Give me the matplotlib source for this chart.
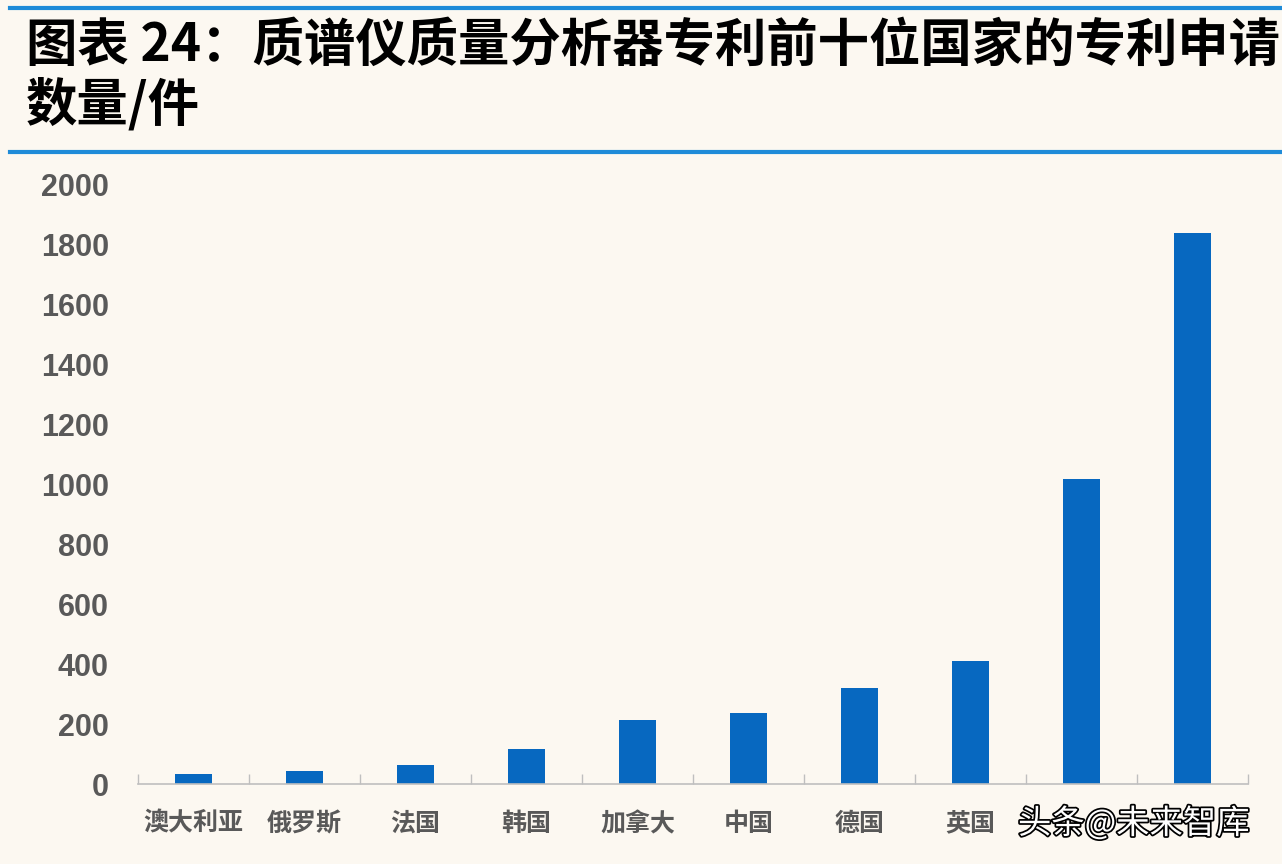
import matplotlib.pyplot as plt
import matplotlib.patheffects as pe

plt.rcParams['font.family'] = ['Noto Sans CJK SC', 'DejaVu Sans']

countries = ['澳大利亚', '俄罗斯', '法国', '韩国', '加拿大', '中国', '德国', '英国', '日本', '美国']
patents = [35, 43, 63, 117, 213, 237, 320, 410, 1017, 1837]
yticks = list(range(0, 2001, 200))
# the last two category names are hidden under the watermark in the source image
shown_labels = countries[:8] + ['', '']

bg = '#fcf8f1'
bar_color = '#0768c0'
line_blue = '#1f8bd8'

fig = plt.figure(figsize=(12.82, 8.64), dpi=100, facecolor=bg)
ax = fig.add_axes([138 / 1282, 1 - 784 / 864, 1110 / 1282, 600 / 864])
ax.set_facecolor(bg)

x = range(len(countries))
ax.bar(x, patents, width=0.34, color=bar_color, zorder=2)

ax.set_xlim(-0.5, len(countries) - 0.5)
ax.set_ylim(0, 2000)
ax.set_yticks(yticks)
ax.set_yticklabels([str(v) for v in yticks], fontsize=22, fontweight='bold',
                   color='#595959', family=['Liberation Sans', 'DejaVu Sans'])
ax.tick_params(axis='y', length=0, pad=21)

# category labels under the bars, boundary ticks pointing up
ax.set_xticks(list(x))
ax.set_xticklabels(shown_labels, fontsize=18, fontweight='bold', color='#595959')
ax.tick_params(axis='x', which='major', length=0, pad=20)
ax.set_xticks([i - 0.5 for i in range(len(countries) + 1)], minor=True)
ax.tick_params(axis='x', which='minor', direction='in', length=7, color='#bfbfbf', width=1)

for s in ['top', 'right', 'left']:
    ax.spines[s].set_visible(False)
ax.spines['bottom'].set_color('#bfbfbf')
ax.spines['bottom'].set_linewidth(1.2)

# title block with blue rules
fig.add_artist(plt.Line2D([10 / 1282, 1], [1 - 8 / 864] * 2, color=line_blue, lw=3))
fig.add_artist(plt.Line2D([10 / 1282, 1], [1 - 152 / 864] * 2, color=line_blue, lw=3))
fig.text(26 / 1282, 1 - 45 / 864, '图表 24：质谱仪质量分析器专利前十位国家的专利申请',
         fontsize=37, fontweight='bold', color='black', va='center', ha='left')
fig.text(26 / 1282, 1 - 105 / 864, '数量/件',
         fontsize=37, fontweight='bold', color='black', va='center', ha='left')

# watermark in the lower right corner
wm = fig.text(1018 / 1282, 1 - 824 / 864, '头条@未来智库', fontsize=24, color='white',
              va='center', ha='left')
wm.set_path_effects([pe.withStroke(linewidth=2.5, foreground='black')])

fig.savefig('out.png', dpi=100, facecolor=bg)
